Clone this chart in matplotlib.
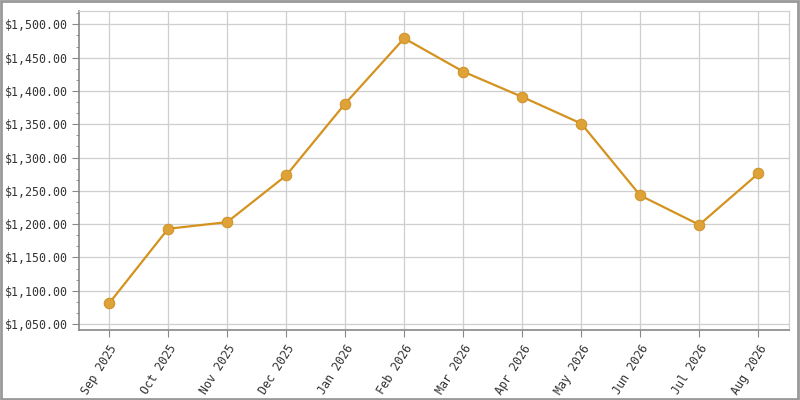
import matplotlib
matplotlib.use("Agg")
import matplotlib.pyplot as plt
from matplotlib.ticker import FuncFormatter, MultipleLocator, AutoMinorLocator
from matplotlib.patches import Rectangle

months = ["Sep 2025", "Oct 2025", "Nov 2025", "Dec 2025", "Jan 2026", "Feb 2026",
          "Mar 2026", "Apr 2026", "May 2026", "Jun 2026", "Jul 2026", "Aug 2026"]
values = [1081, 1193, 1203, 1273, 1381, 1479, 1429, 1391, 1351, 1243, 1199, 1276]

line_color = "#D4921E"
marker_face = "#DFA236"
marker_edge = "#CC9026"
font = "DejaVu Sans Mono"

fig = plt.figure(figsize=(8, 4), dpi=100)
ax = fig.add_axes([79/800, 1 - 330/400, (789-79)/800, (330-11)/400])

x = list(range(len(months)))
ax.plot(x, values, color=line_color, lw=1.6, marker="o", markersize=7.6,
        markerfacecolor=marker_face, markeredgecolor=marker_edge, markeredgewidth=0.7, zorder=3)

ax.set_xlim(-0.51, 11.52)
ax.set_ylim(1041, 1520)
ax.yaxis.set_major_locator(MultipleLocator(50))
ax.yaxis.set_minor_locator(AutoMinorLocator(3))
ax.yaxis.set_major_formatter(FuncFormatter(lambda v, p: f"${v:,.2f}"))
ax.set_xticks(x)
ax.set_xticklabels(months, rotation=58, ha="right", rotation_mode="anchor",
                   fontfamily=font, fontsize=8.4, color="#333333")
ax.tick_params(axis="y", which="major", length=5, color="#888888", labelsize=8.4,
               labelcolor="#333333", pad=3)
ax.tick_params(axis="y", which="minor", length=2.5, color="#888888")
ax.tick_params(axis="x", which="major", length=5, color="#888888", pad=4)
for lab in ax.get_yticklabels():
    lab.set_fontfamily(font)

ax.grid(True, which="major", color="#cfcfcf", lw=0.9)
ax.set_axisbelow(True)
for s in ["left", "bottom"]:
    ax.spines[s].set_color("#888888")
    ax.spines[s].set_linewidth(1.2)
for s in ["top", "right"]:
    ax.spines[s].set_color("#d0d0d0")
    ax.spines[s].set_linewidth(0.9)

fig.patches.append(Rectangle((0.001, 0.002), 0.997, 0.995, transform=fig.transFigure,
                             fill=False, edgecolor="#999999", lw=2))

fig.savefig("out.png", dpi=100)
